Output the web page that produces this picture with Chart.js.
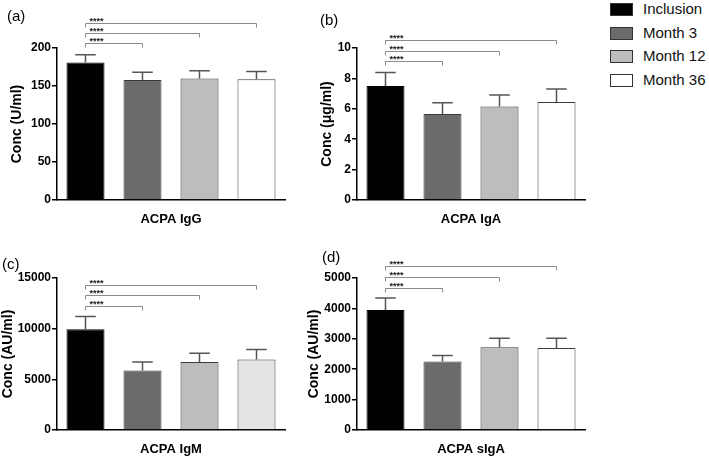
<!DOCTYPE html>
<html>
<head>
<meta charset="utf-8">
<script src="https://cdn.jsdelivr.net/npm/chart.js@4.4.1/dist/chart.umd.min.js"></script>
<style>
  body { margin: 0; width: 709px; height: 462px; background: #fff; position: relative; overflow: hidden;
         font-family: "Liberation Sans", Arial, sans-serif; }
  .panel { position: absolute; width: 290px; height: 230px; }
  .tag { position: absolute; font-size: 15px; line-height: 18px; color: #000; }
  #legend { position: absolute; left: 610px; top: 0; }
  .row { position: absolute; left: 0; width: 100px; height: 18px; white-space: nowrap; }
  .box { position: absolute; left: 0; top: 3px; width: 21px; height: 11px; border: 1px solid #333; }
  .lab { position: absolute; left: 33px; top: 0; font-size: 15px; line-height: 18px; color: #111; }
</style>
</head>
<body>
<canvas id="chartA" class="panel" width="290" height="230" style="left:0;top:0"></canvas>
<canvas id="chartB" class="panel" width="290" height="230" style="left:300px;top:0"></canvas>
<canvas id="chartC" class="panel" width="290" height="230" style="left:0;top:230px"></canvas>
<canvas id="chartD" class="panel" width="290" height="230" style="left:300px;top:230px"></canvas>
<div class="tag" style="left:7px;top:7px">(a)</div>
<div class="tag" style="left:320px;top:11px">(b)</div>
<div class="tag" style="left:2px;top:255px">(c)</div>
<div class="tag" style="left:322px;top:248px">(d)</div>
<div id="legend"></div>
<script>
const groups = ["Inclusion", "Month 3", "Month 12", "Month 36"];
const fills = ["#000000", "#6b6b6b", "#bdbdbd", "#ffffff"];
const fillsIgM = ["#000000", "#6b6b6b", "#bdbdbd", "#e4e4e4"];

// mean and SEM (upper error bar) per time point
const igG = [181, 158, 160, 159];
const igGErr = [10, 10, 10, 10];
const igA = [7.5, 5.65, 6.15, 6.45];
const igAErr = [0.88, 0.75, 0.75, 0.85];
const igM = [9950, 5880, 6720, 6960];
const igMErr = [1260, 840, 860, 990];
const sIgA = [3950, 2250, 2720, 2700];
const sIgAErr = [390, 200, 300, 320];

// significance brackets: Inclusion vs each later point, height in data units
const pairs = [[0, 1], [0, 2], [0, 3]];
const stars = ["****", "****", "****"];
const igGLevels = [206, 220, 233];
const igALevels = [9.13, 9.83, 10.55];
const igMLevels = [12260, 13320, 14340];
const sIgALevels = [4680, 5030, 5400];

Chart.defaults.font.family = '"Liberation Sans", Arial, sans-serif';

const errorBars = {
  id: "errorBars",
  afterDatasetsDraw(chart) {
    const ctx = chart.ctx;
    const y = chart.scales.y;
    chart.data.datasets.forEach((ds, i) => {
      const bar = chart.getDatasetMeta(i).data[0];
      const top = y.getPixelForValue(ds.data[0] + ds.err);
      const cap = bar.width * 0.27;
      ctx.save();
      ctx.strokeStyle = "#555";
      ctx.lineWidth = 1.5;
      ctx.beginPath();
      ctx.moveTo(bar.x, bar.y);
      ctx.lineTo(bar.x, top);
      ctx.moveTo(bar.x - cap, top);
      ctx.lineTo(bar.x + cap, top);
      ctx.stroke();
      ctx.restore();
    });
  }
};

const brackets = {
  id: "brackets",
  afterDraw(chart, args, opts) {
    const ctx = chart.ctx;
    const y = chart.scales.y;
    ctx.save();
    opts.pairs.forEach(([a, b], k) => {
      const x1 = chart.getDatasetMeta(a).data[0].x;
      const x2 = chart.getDatasetMeta(b).data[0].x;
      const py = Math.round(y.getPixelForValue(opts.levels[k])) + 0.5;
      ctx.strokeStyle = "#8a8a8a";
      ctx.lineWidth = 1;
      ctx.beginPath();
      ctx.moveTo(x1, py + 4);
      ctx.lineTo(x1, py);
      ctx.lineTo(x2, py);
      ctx.lineTo(x2, py + 4);
      ctx.stroke();
      ctx.fillStyle = "#222";
      ctx.font = 'bold 9px "Liberation Sans", Arial, sans-serif';
      ctx.textBaseline = "alphabetic";
      ctx.fillText(opts.labels[k], x1 + 4, py + 0.5);
    });
    ctx.restore();
  }
};

function makePanel(id, xLabel, yTitle, means, errs, levels, max, step, titlePad, colors) {
  new Chart(document.getElementById(id), {
    type: "bar",
    data: {
      labels: [xLabel],
      datasets: groups.map((g, i) => ({
        label: g,
        data: [means[i]],
        err: errs[i],
        backgroundColor: colors[i],
        borderColor: i === 0 ? "#000" : "#3a3a3a",
        borderWidth: 1
      }))
    },
    options: {
      responsive: false,
      animation: false,
      layout: { padding: { top: 48, left: 0, right: 5, bottom: 0 } },
      datasets: { bar: { categoryPercentage: 1, barPercentage: 0.667 } },
      plugins: {
        legend: { display: false },
        tooltip: { enabled: false },
        brackets: { pairs: pairs, levels: levels, labels: stars }
      },
      scales: {
        x: {
          grid: { display: false },
          border: { display: true, color: "#000", width: 1.5, dash: [2, 2] },
          ticks: { color: "#000", font: { size: 13, weight: "bold" }, padding: 4 },
          afterFit: (s) => { s.height = 30; }
        },
        y: {
          min: 0,
          max: max,
          ticks: { stepSize: step, color: "#000", font: { size: 12, weight: "bold" }, padding: 1,
                   callback: (v) => String(v) },
          grid: { drawOnChartArea: false, tickLength: 5, color: "#000", lineWidth: 1.5 },
          border: { color: "#000", width: 1.5 },
          title: { display: true, text: yTitle, color: "#000", font: { size: 14, weight: "bold" },
                   padding: { top: titlePad, bottom: 0 } },
          afterFit: (s) => { s.width = 57; }
        }
      }
    },
    plugins: [errorBars, brackets]
  });
}

makePanel("chartA", "ACPA IgG", "Conc (U/ml)", igG, igGErr, igGLevels, 200, 50, 9, fills);
makePanel("chartB", "ACPA IgA", "Conc (μg/ml)", igA, igAErr, igALevels, 10, 2, 19, fills);
makePanel("chartC", "ACPA IgM", "Conc (AU/ml)", igM, igMErr, igMLevels, 15000, 5000, 0, fillsIgM);
makePanel("chartD", "ACPA sIgA", "Conc (AU/ml)", sIgA, sIgAErr, sIgALevels, 5000, 1000, 6, fills);

// legend built from the group names and fills
const legend = document.getElementById("legend");
const rowTops = [0, 23.5, 47, 70.5];
groups.forEach((g, i) => {
  const row = document.createElement("div");
  row.className = "row";
  row.style.top = rowTops[i] + "px";
  row.innerHTML = '<div class="box" style="background:' + fills[i] + '"></div><div class="lab">' + g + '</div>';
  legend.appendChild(row);
});
</script>
</body>
</html>
